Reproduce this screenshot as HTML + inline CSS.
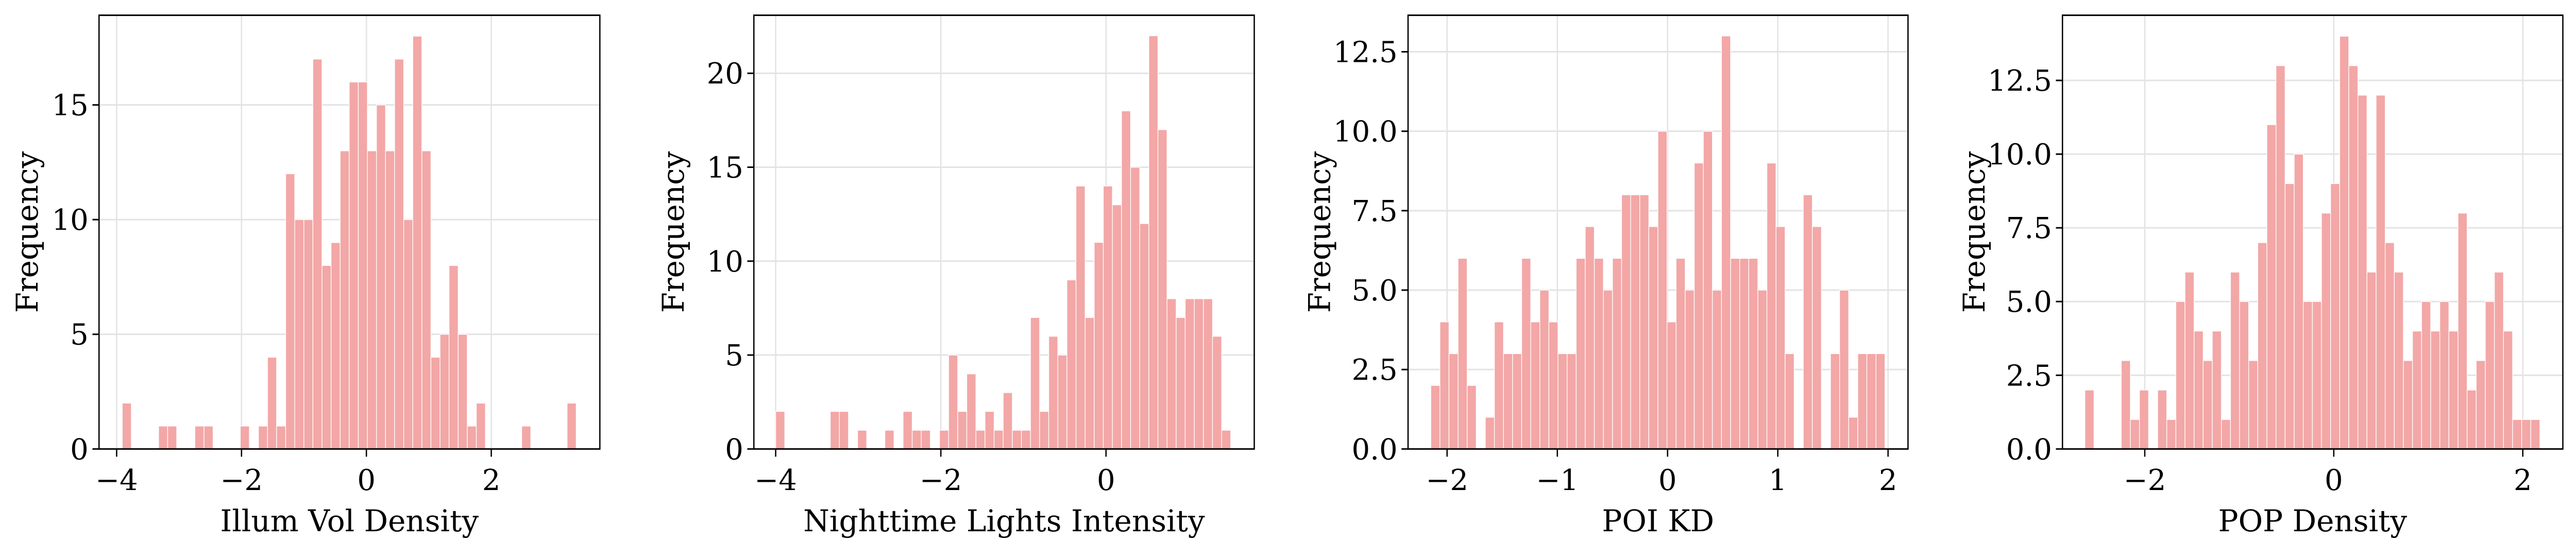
<!DOCTYPE html>
<html><head><meta charset="utf-8">
<style>
html,body{margin:0;padding:0;background:#fff;overflow:hidden;width:100%;height:100%;}
svg{display:block;width:100vw;height:100vh;}
text{font-family:"DejaVu Serif","Liberation Serif",serif;fill:#000;}
</style></head>
<body>
<svg id="fig" viewBox="0 0 5879 1079" preserveAspectRatio="none" xmlns="http://www.w3.org/2000/svg"></svg>
<script>
// Panel 1: Illum Vol Density
const illumCounts = [2,0,0,0,1,1,0,0,1,1,0,0,0,1,0,1,4,1,12,10,10,17,8,9,13,16,16,13,15,13,17,10,18,13,4,5,8,5,1,2,0,0,0,0,1,0,0,0,0,2];
const illumXTicks = [-4,-2,0,2];
const illumYTicks = [0,5,10,15];
// Panel 2: Nighttime Lights Intensity
const nightCounts = [2,0,0,0,0,0,2,2,0,1,0,0,1,0,2,1,1,0,1,5,2,4,1,2,1,3,1,1,7,2,6,5,9,14,7,11,14,13,18,15,12,22,17,8,7,8,8,8,6,1];
const nightXTicks = [-4,-2,0];
const nightYTicks = [0,5,10,15,20];
// Panel 3: POI KD
const poiCounts = [2,4,3,6,2,0,1,4,3,3,6,4,5,4,3,3,6,7,6,5,6,8,8,8,7,10,4,6,5,9,10,5,13,6,6,6,5,9,7,3,0,8,7,0,3,5,1,3,3,3];
const poiXTicks = [-2,-1,0,1,2];
const poiYTicks = [0,2.5,5,7.5,10,12.5];
// Panel 4: POP Density
const popCounts = [2,0,0,0,3,1,2,0,2,1,5,6,4,3,4,1,6,5,3,7,11,13,9,10,5,5,8,9,14,13,12,6,12,7,6,3,4,5,4,5,4,8,2,3,5,6,4,1,1,1];
const popXTicks = [-2,0,2];
const popYTicks = [0,2.5,5,7.5,10,12.5];

const panels = [
  {key:'illum', counts:illumCounts, xt:illumXTicks, yt:illumYTicks, dec:0, label:'Illum Vol Density',
   left:226, right:1369, xmin:-4.282, xmax:3.739, ymax:18.91, binStart:-3.910, binW:0.1454},
  {key:'nighttime', counts:nightCounts, xt:nightXTicks, yt:nightYTicks, dec:0, label:'Nighttime Lights Intensity',
   left:1720.5, right:2862.5, xmin:-4.264, xmax:1.795, ymax:23.09, binStart:-4.0, binW:0.1102},
  {key:'poi', counts:poiCounts, xt:poiXTicks, yt:poiYTicks, dec:1, label:'POI KD',
   left:3213.5, right:4354.5, xmin:-2.354, xmax:2.181, ymax:13.65, binStart:-2.1476, binW:0.0824},
  {key:'pop', counts:popCounts, xt:popXTicks, yt:popYTicks, dec:1, label:'POP Density',
   left:4707, right:5849, xmin:-2.871, xmax:2.424, ymax:14.71, binStart:-2.634, binW:0.0963}
];
const TOP = 29.6, BOTTOM = 871.3;
const NS = 'http://www.w3.org/2000/svg';
const svg = document.getElementById('fig');
const rect = svg.getBoundingClientRect();
const fx = (rect.width || 5879) / 5879, fy = (rect.height || 1079) / 1079;
const K = fy / fx;
function mk(tag, attrs, parent){
  const e = document.createElementNS(NS, tag);
  for (const k in attrs) e.setAttribute(k, attrs[k]);
  parent.appendChild(e);
  return e;
}
function txt(x, y, size, anchor, content, parent, rot){
  let tr = 'translate(' + x + ' ' + y + ') scale(' + K + ' 1) translate(' + (-x) + ' ' + (-y) + ')';
  if (rot) tr += ' rotate(' + rot + ' ' + x + ' ' + y + ')';
  const t = mk('text', {x:x, y:y, 'font-size':size, 'text-anchor':anchor, transform:tr}, parent);
  t.textContent = content;
  return t;
}
function fmt(v, dec){ const s = v.toFixed(dec); return s.replace('-', '\u2212'); }

panels.forEach(p => {
  const g = mk('g', {}, svg);
  
  
  const sx = v => p.left + (v - p.xmin) / (p.xmax - p.xmin) * (p.right - p.left);
  const sy = v => BOTTOM - v / p.ymax * (BOTTOM - TOP);
  const grid = mk('g', {}, g);
  
  
  p.xt.forEach(t => {
    const l = mk('line', {x1:sx(t), x2:sx(t), y1:TOP, y2:BOTTOM, stroke:'#e3e3e3', 'stroke-width':3}, grid);
    
    
  });
  p.yt.forEach(t => {
    const l = mk('line', {x1:p.left, x2:p.right, y1:sy(t), y2:sy(t), stroke:'#e3e3e3', 'stroke-width':3}, grid);
    
    
  });
  const bars = mk('g', {}, g);
  
  
  p.counts.forEach((c, i) => {
    if (c <= 0) return;
    const x0 = sx(p.binStart + i * p.binW), x1 = sx(p.binStart + (i + 1) * p.binW);
    const r = mk('rect', {x:x0, y:sy(c), width:x1 - x0, height:BOTTOM - sy(c), fill:'#f3a7a7', stroke:'#ffffff', 'stroke-width':1.5}, bars);
    
    
  });
  const sp = mk('rect', {x:p.left, y:TOP, width:p.right - p.left, height:BOTTOM - TOP, fill:'none', stroke:'#000', 'stroke-width':3}, g);
  
  
  p.xt.forEach(t => {
    const tk = mk('line', {x1:sx(t), x2:sx(t), y1:BOTTOM, y2:BOTTOM + 15, stroke:'#000', 'stroke-width':3}, g);
    
    
    const tx = txt(sx(t), 951, 56, 'middle', fmt(t, 0), g);
    
    
  });
  p.yt.forEach(t => {
    const tk = mk('line', {x1:p.left - 15, x2:p.left, y1:sy(t), y2:sy(t), stroke:'#000', 'stroke-width':3}, g);
    
    
    const tx = txt(p.left - 24, sy(t) + 20, 56, 'end', fmt(t, p.dec), g);
    
    
  });
  const xl = txt((p.left + p.right) / 2, 1031, 58, 'middle', p.label, g);
  
  
  const yx = p.left - (p.dec ? 178 : (p.key === 'nighttime' ? 160 : 140));
  const yl = txt(yx, (TOP + BOTTOM) / 2, 58, 'middle', 'Frequency', g, -90);
  
  
});
</script>
</body></html>
